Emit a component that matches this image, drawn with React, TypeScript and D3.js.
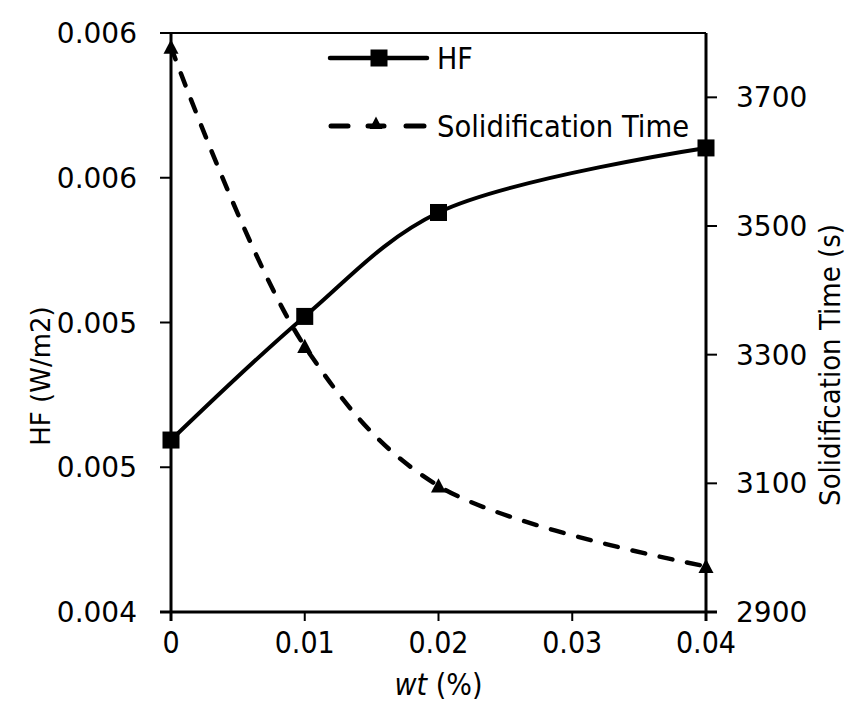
import React from "react";
import * as d3 from "d3";

const wt = [0, 0.01, 0.02, 0.04];
const hf = [0.004594, 0.005021, 0.00538, 0.005603];
const solidTime = [3778, 3313, 3096, 2971];
const xTicks = [0, 0.01, 0.02, 0.03, 0.04];
const xTickLabels = ["0", "0.01", "0.02", "0.03", "0.04"];
const yLeftTicks = [0.004, 0.0045, 0.005, 0.0055, 0.006];
const yLeftTickLabels = ["0.004", "0.005", "0.005", "0.006", "0.006"];
const yRightTicks = [2900, 3100, 3300, 3500, 3700];
const legendLabels = ["HF", "Solidification Time"];

const W = 848;
const H = 703;
const L = 171;
const R = 706;
const T = 33;
const B = 612;

const COND = "'DejaVu Sans Condensed', 'DejaVu Sans', sans-serif";
const WIDE = "'DejaVu Sans', sans-serif";

export default function App() {
  const x = d3.scaleLinear().domain([0, 0.04]).range([L, R]);
  const yL = d3.scaleLinear().domain([0.004, 0.006]).range([B, T]);
  const yR = d3.scaleLinear().domain([2900, 3800]).range([B, T]);

  const hfPts: [number, number][] = wt.map((w, i) => [x(w), yL(hf[i])]);
  const stPts: [number, number][] = wt.map((w, i) => [x(w), yR(solidTime[i])]);
  const line = d3.line().curve(d3.curveCatmullRom.alpha(0.5));

  const sq = 17;
  const tri = (cx: number, cy: number, s: number) => {
    const h = s * 0.95;
    return `M${cx},${cy - h * 0.6} L${cx + s / 2},${cy + h * 0.4} L${cx - s / 2},${cy + h * 0.4} Z`;
  };

  return (
    <svg
      width={W}
      height={H}
      style={{ position: "absolute", left: 0, top: 0, background: "#fff" }}
    >
      <rect x={0} y={0} width={W} height={H} fill="#fff" />
      {/* top border */}
      <line x1={L - 11} x2={R} y1={T} y2={T} stroke="#000" strokeWidth={2} />
      {/* left axis */}
      <line x1={L} x2={L} y1={T} y2={B + 9} stroke="#000" strokeWidth={3} />
      {yLeftTicks.map((t, i) => (
        <g key={"yl" + i}>
          <line x1={L - 11} x2={L} y1={yL(t)} y2={yL(t)} stroke="#000" strokeWidth={2} />
          <text
            x={L - 34}
            y={yL(t) + 10}
            textAnchor="end"
            fontFamily={WIDE}
            fontSize={28}
            fill="#000"
          >
            {yLeftTickLabels[i]}
          </text>
        </g>
      ))}
      {/* bottom axis */}
      <line x1={L - 11} x2={R + 11} y1={B} y2={B} stroke="#000" strokeWidth={3} />
      {xTicks.map((t, i) => (
        <g key={"x" + i}>
          <line x1={x(t)} x2={x(t)} y1={B} y2={B + 9} stroke="#000" strokeWidth={2} />
          <text
            x={x(t)}
            y={B + 41}
            textAnchor="middle"
            fontFamily={COND}
            fontSize={30}
            fill="#000"
          >
            {xTickLabels[i]}
          </text>
        </g>
      ))}
      {/* right axis */}
      <line x1={R} x2={R} y1={T} y2={B + 9} stroke="#000" strokeWidth={3} />
      {yRightTicks.map((t, i) => (
        <g key={"yr" + i}>
          <line x1={R} x2={R + 11} y1={yR(t)} y2={yR(t)} stroke="#000" strokeWidth={2} />
          <text
            x={R + 30}
            y={yR(t) + 10}
            textAnchor="start"
            fontFamily={WIDE}
            fontSize={28}
            fill="#000"
          >
            {t}
          </text>
        </g>
      ))}
      {/* axis titles */}
      <text
        transform={`translate(50,376) rotate(-90)`}
        textAnchor="middle"
        fontFamily={WIDE}
        fontSize={26}
        fill="#000"
      >
        HF (W/m2)
      </text>
      <text
        transform={`translate(840,365) rotate(-90)`}
        textAnchor="middle"
        fontFamily={COND}
        fontSize={29}
        fill="#000"
      >
        Solidification Time (s)
      </text>
      <text
        x={(L + R) / 2}
        y={695}
        textAnchor="middle"
        fontFamily={COND}
        fontSize={30}
        fill="#000"
      >
        <tspan fontStyle="italic">wt</tspan> (%)
      </text>

      {/* series */}
      <path
        d={line(stPts) || ""}
        fill="none"
        stroke="#000"
        strokeWidth={4.5}
        strokeDasharray="13 15"
        strokeLinecap="round"
      />
      <path d={line(hfPts) || ""} fill="none" stroke="#000" strokeWidth={4} />
      {hfPts.map((p, i) => (
        <rect
          key={"hm" + i}
          x={p[0] - sq / 2}
          y={p[1] - sq / 2}
          width={sq}
          height={sq}
          fill="#000"
        />
      ))}
      {stPts.map((p, i) => (
        <path key={"sm" + i} d={tri(p[0], p[1] + 1, 15)} fill="#000" />
      ))}

      {/* legend */}
      <line x1={330} x2={427} y1={58} y2={58} stroke="#000" strokeWidth={4.5} strokeLinecap="round" />
      <rect x={379 - sq / 2} y={58 - sq / 2} width={sq} height={sq} fill="#000" />
      <text x={437} y={69} fontFamily={COND} fontSize={30} fill="#000">
        {legendLabels[0]}
      </text>
      <line x1={331} x2={348} y1={126} y2={126} stroke="#000" strokeWidth={5} strokeLinecap="round" />
      <line x1={406} x2={424} y1={126} y2={126} stroke="#000" strokeWidth={5} strokeLinecap="round" />
      <line x1={368} x2={384} y1={126} y2={126} stroke="#000" strokeWidth={5} strokeLinecap="round" />
      <path d={tri(376, 124, 13)} fill="#000" />
      <text x={437} y={137} fontFamily={COND} fontSize={30.5} fill="#000">
        {legendLabels[1]}
      </text>
    </svg>
  );
}
